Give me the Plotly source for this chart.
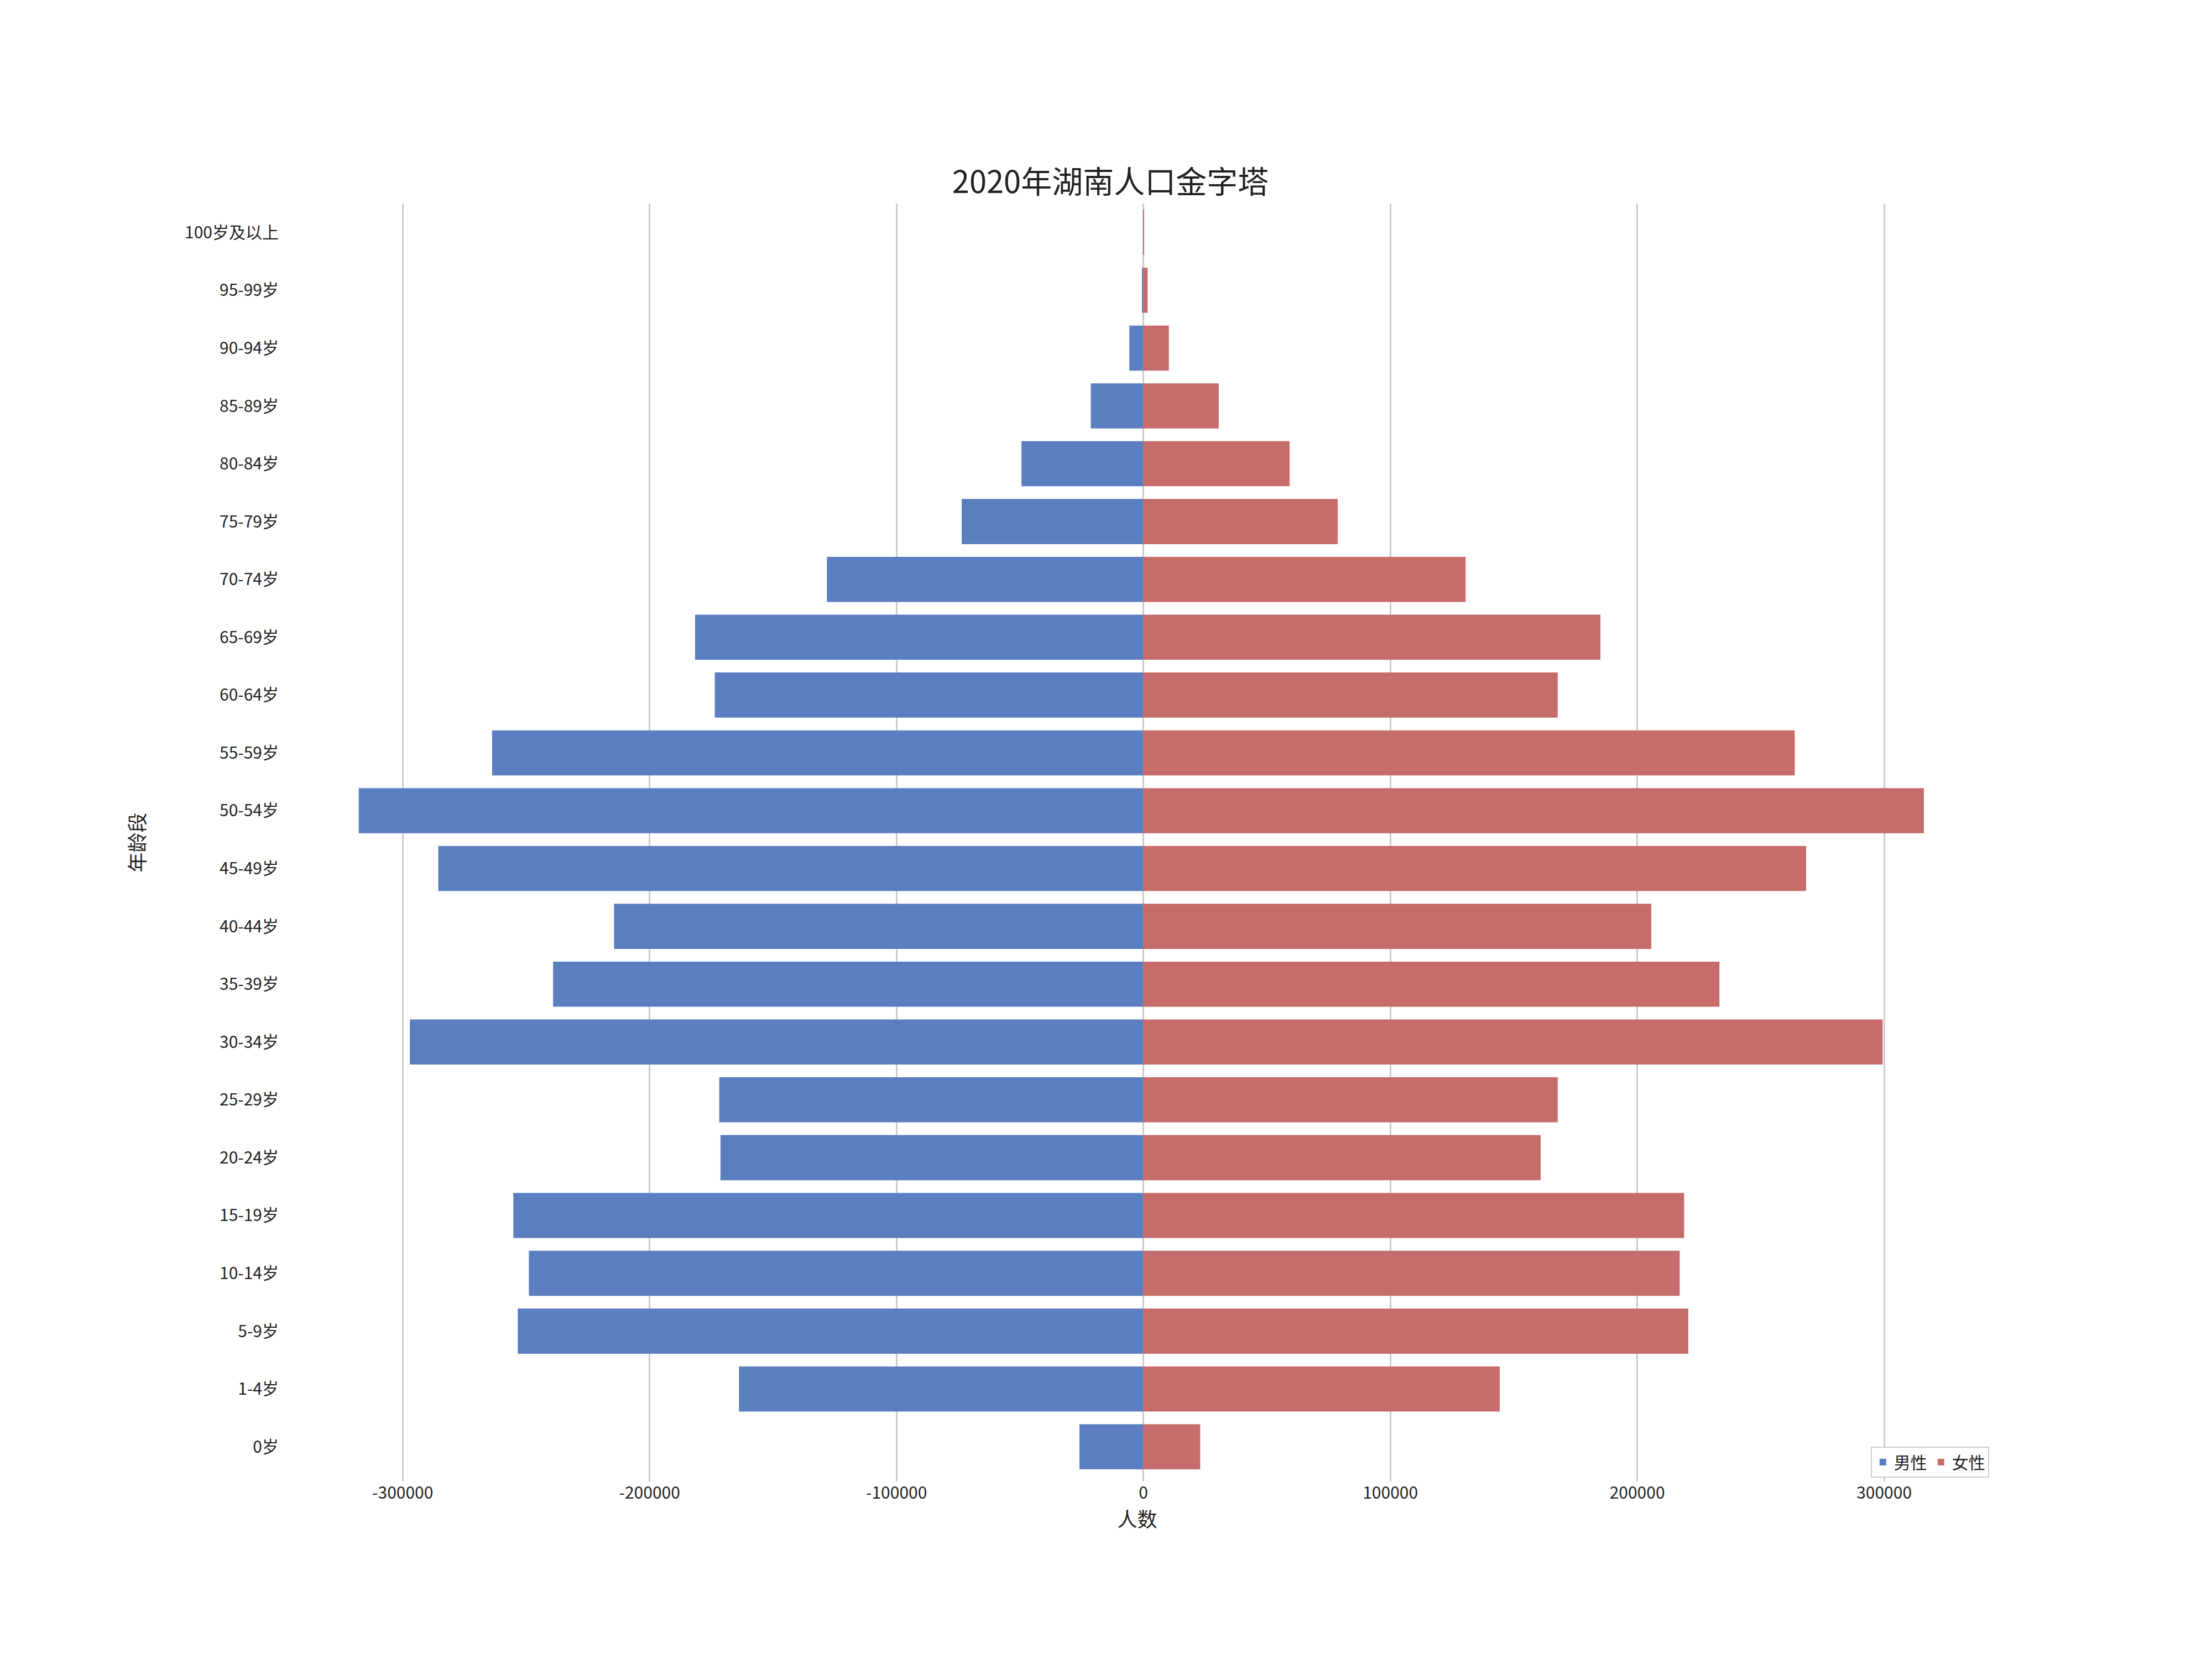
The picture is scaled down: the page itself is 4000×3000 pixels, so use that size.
import plotly.graph_objects as go

ages = ["0岁","1-4岁","5-9岁","10-14岁","15-19岁","20-24岁","25-29岁","30-34岁","35-39岁","40-44岁",
        "45-49岁","50-54岁","55-59岁","60-64岁","65-69岁","70-74岁","75-79岁","80-84岁","85-89岁","90-94岁",
        "95-99岁","100岁及以上"]
male = [25900,163800,253400,248900,255200,171300,171800,297100,239100,214400,
        285600,317800,263800,173600,181600,128200,73600,49400,21300,5700,600,50]
female = [23000,144300,220700,217200,219000,160900,167800,299400,233300,205700,
          268400,316100,263800,167800,185100,130500,78700,59200,30500,10300,1700,150]
ticks = [-300000,-200000,-100000,0,100000,200000,300000]

font = "Noto Sans CJK SC"
fig = go.Figure()
fig.add_trace(go.Bar(y=ages, x=[-v for v in male], orientation="h", name="男性",
                     marker=dict(color="#5a7ec0", line=dict(width=0))))
fig.add_trace(go.Bar(y=ages, x=female, orientation="h", name="女性",
                     marker=dict(color="#c66c6a", line=dict(width=0))))
fig.update_layout(
    width=4000, height=3000, barmode="overlay", bargap=0.22,
    paper_bgcolor="white", plot_bgcolor="white",
    font=dict(family=font, size=30, color="#222"),
    margin=dict(l=497, r=400, t=360, b=329),
    title=dict(text="2020年湖南人口金字塔", x=0.5, xanchor="center", y=0.893, yanchor="middle",
               font=dict(size=56, family=font, color="#222")),
    xaxis=dict(range=[-350000, 345000], tickvals=ticks, ticktext=[str(t) for t in ticks],
               showgrid=True, gridcolor="#cccccc", gridwidth=3, zeroline=True, zerolinecolor="#cccccc",
               zerolinewidth=3, showline=False, ticks="", title=dict(text="人数", standoff=10),
               tickfont=dict(size=30)),
    yaxis=dict(showgrid=False, showline=False, ticks="", title=dict(text="年龄段", standoff=60),
               tickfont=dict(size=30), range=[-0.6, 21.5]),
    legend=dict(orientation="h", x=0.9964, xanchor="right", y=0.003, yanchor="bottom",
                bordercolor="#cccccc", borderwidth=2, font=dict(size=30)),
)
fig.write_html("out.html")
